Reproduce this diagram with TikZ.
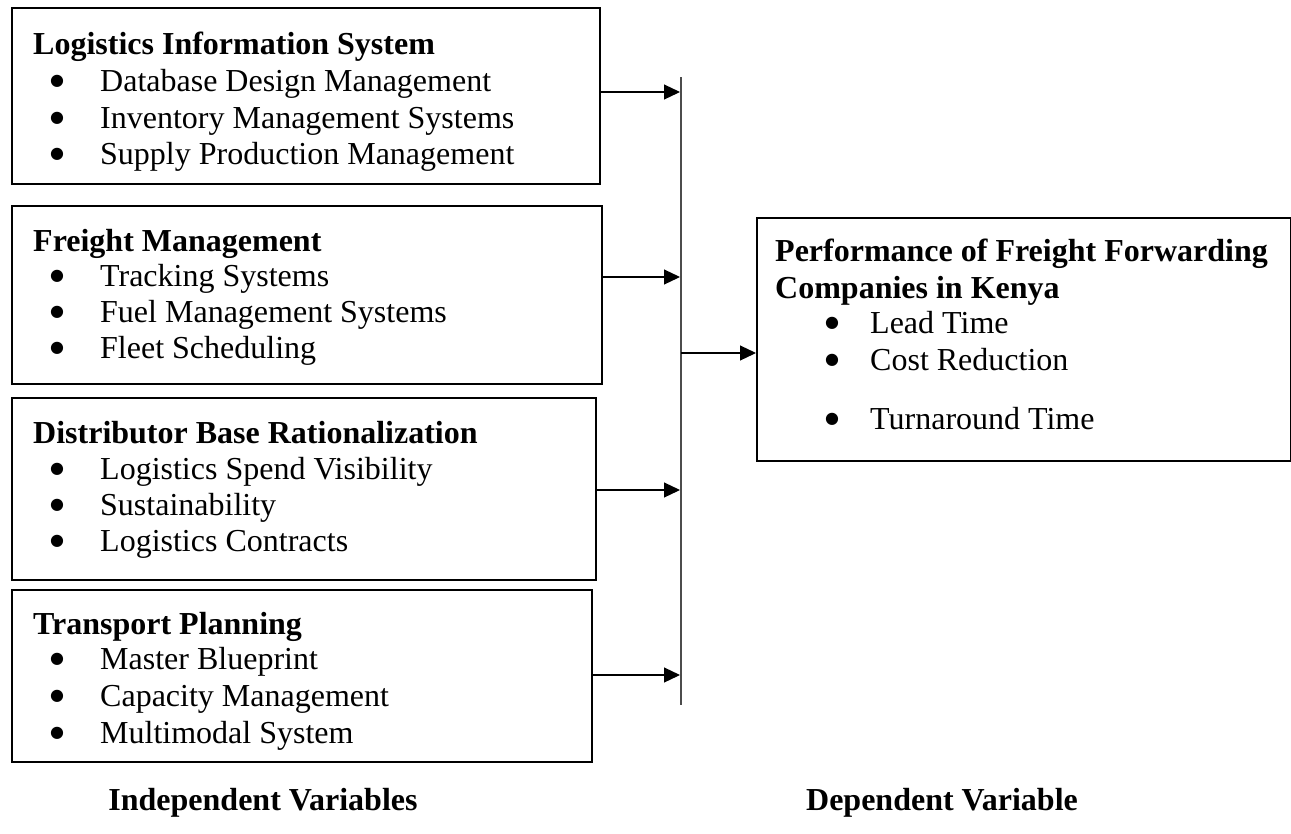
\documentclass[tikz,border=0pt]{standalone}
\usepackage{fontspec}
\setmainfont{Liberation Serif}
\newfontfamily\bulfont{DejaVu Sans}
\usetikzlibrary{arrows.meta}
\begin{document}
\begin{tikzpicture}[x=1pt,y=-1pt,
 box/.style={draw, line width=1.8pt, inner sep=0pt, anchor=north west},
 ttl/.style={anchor=base west, inner sep=0pt, font=\fontsize{32}{37}\selectfont\bfseries},
 itm/.style={anchor=base west, inner sep=0pt, font=\fontsize{32}{37}\selectfont},
 bul/.style={anchor=base, inner sep=0pt, yshift=6pt, font=\fontsize{16}{18}\selectfont\bulfont},
 lbl/.style={inner sep=0pt, font=\fontsize{32}{37}\selectfont\bfseries},
 conn/.style={line width=1.2pt, -{Triangle[length=16pt,width=15pt]}},
 bus/.style={line width=1.5pt, draw=black!70}]
\useasboundingbox (0,0) rectangle (1291,833);
% boxes
\node[box, minimum width=588pt, minimum height=176pt] (b1) at (11,7) {};
\node[box, minimum width=590pt, minimum height=178pt] (b2) at (11,205) {};
\node[box, minimum width=584pt, minimum height=182pt] (b3) at (11,397) {};
\node[box, minimum width=580pt, minimum height=172pt] (b4) at (11,589) {};
\node[box, minimum width=534pt, minimum height=243pt] (rb) at (756,217) {};
% box 1
\node[ttl] (t1) at (33,54) {Logistics Information System};
\node[bul] (p11) at (57,91) {●};  \node[itm] (i11) at (100,91) {Database Design Management};
\node[bul] (p12) at (57,128) {●}; \node[itm] (i12) at (100,128) {Inventory Management Systems};
\node[bul] (p13) at (57,164) {●}; \node[itm] (i13) at (100,164) {Supply Production Management};
% box 2
\node[ttl] (t2) at (33,251) {Freight Management};
\node[bul] (p21) at (57,286) {●}; \node[itm] (i21) at (100,286) {Tracking Systems};
\node[bul] (p22) at (57,322) {●}; \node[itm] (i22) at (100,322) {Fuel Management Systems};
\node[bul] (p23) at (57,358) {●}; \node[itm] (i23) at (100,358) {Fleet Scheduling};
% box 3
\node[ttl] (t3) at (33,443) {Distributor Base Rationalization};
\node[bul] (p31) at (57,479) {●}; \node[itm] (i31) at (100,479) {Logistics Spend Visibility};
\node[bul] (p32) at (57,515) {●}; \node[itm] (i32) at (100,515) {Sustainability};
\node[bul] (p33) at (57,551) {●}; \node[itm] (i33) at (100,551) {Logistics Contracts};
% box 4
\node[ttl] (t4) at (33,634) {Transport Planning};
\node[bul] (p41) at (57,669) {●}; \node[itm] (i41) at (100,669) {Master Blueprint};
\node[bul] (p42) at (57,706) {●}; \node[itm] (i42) at (100,706) {Capacity Management};
\node[bul] (p43) at (57,743) {●}; \node[itm] (i43) at (100,743) {Multimodal System};
% right box
\node[ttl] (tr1) at (775,261) {Performance of Freight Forwarding};
\node[ttl] (tr2) at (775,298) {Companies in Kenya};
\node[bul] (pr1) at (832,333) {●}; \node[itm] (ir1) at (870,333) {Lead Time};
\node[bul] (pr2) at (832,370) {●}; \node[itm] (ir2) at (870,370) {Cost Reduction};
\node[bul] (pr3) at (832,429) {●}; \node[itm] (ir3) at (870,429) {Turnaround Time};
% bus and connectors
\coordinate (bust) at (681,77);
\coordinate (busb) at (681,705);
\draw[bus] (bust) -- (busb);
\coordinate (a1) at (680,92);
\coordinate (a2) at (680,277);
\coordinate (a3) at (680,490);
\coordinate (a4) at (680,675);
\coordinate (am) at (681,353);
\draw[conn] (b1.east |- a1) -- (a1);
\draw[conn] (b2.east |- a2) -- (a2);
\draw[conn] (b3.east |- a3) -- (a3);
\draw[conn] (b4.east |- a4) -- (a4);
\draw[conn] (am) -- (rb.west |- am);
% labels
\node[lbl] (lind) at (263,803) {Independent Variables};
\node[lbl] (ldep) at (942,803) {Dependent Variable};
\end{tikzpicture}
\end{document}
